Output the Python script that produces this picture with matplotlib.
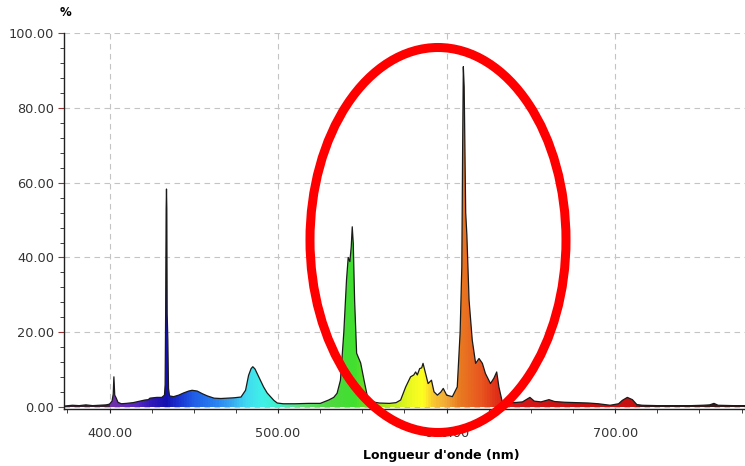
import matplotlib
matplotlib.use('Agg')
import matplotlib.pyplot as plt
import numpy as np
from matplotlib.colors import LinearSegmentedColormap
from matplotlib.patches import Polygon, Ellipse
from matplotlib.ticker import MultipleLocator, FormatStrFormatter

# Longueur d'onde (nm) et intensité (%)
longueurs = [373.5, 378, 382, 386, 390, 394, 398, 400, 401.5, 402.2, 402.6, 403.1, 404, 405,
             407, 410, 414, 418, 421, 423, 424, 428, 431, 432.6, 433.0, 433.3, 433.6, 433.8,
             434.0, 434.2, 434.6, 435.0, 435.6, 438, 441, 444, 447, 449, 452, 455, 458, 462,
             466, 470, 474, 478, 480.7, 482.5, 484, 485, 486.3, 488.5, 491.4, 493.5, 495.5,
             497.5, 499.5, 503, 510, 518, 525, 530, 533, 535, 537, 539, 540.6, 541.6, 542.6,
             543.4, 544.0, 544.6, 545.4, 546.6, 549, 551, 553, 556, 560, 566, 570, 572.7,
             575.7, 578.6, 580.5, 581.6, 582.6, 584, 585.2, 586, 587.5, 589, 591, 592.5,
             594.5, 596.5, 598, 600, 603.4, 606.3, 608, 609, 609.5, 609.9, 610.4, 610.8,
             611.3, 612, 613.3, 615.2, 617.2, 619.2, 621.2, 623, 626, 628, 629.7, 631, 633,
             636, 640, 645, 649.4, 652, 656, 660.7, 664, 670, 677, 684, 690, 697, 702, 704.2,
             707.2, 710.2, 712.8, 716, 725, 735, 745, 752, 756, 758.6, 761, 770, 777]
intensites = [0.3, 0.5, 0.4, 0.6, 0.4, 0.5, 0.6, 0.8, 1.6, 3.5, 8.1, 3.2, 2.4, 1.3,
              0.9, 1.0, 1.2, 1.6, 1.9, 2.0, 2.4, 2.6, 2.6, 3.2, 6, 25, 53, 58.3,
              53, 25, 18, 5, 3.0, 2.8, 3.2, 3.8, 4.3, 4.5, 4.3, 3.6, 3.0, 2.4,
              2.3, 2.4, 2.5, 2.7, 4.5, 8.5, 10.3, 10.8, 10.2, 8.1, 5.4, 3.8, 2.8,
              1.8, 1.1, 0.9, 0.9, 1.0, 1.0, 1.9, 2.6, 3.7, 7.2, 20, 34, 40, 38.9,
              42.9, 48.2, 43.8, 28.6, 14.4, 11.8, 7.2, 2.8, 1.4, 1.1, 1.0, 1.2, 1.9,
              5.4, 8.1, 8.6, 9.4, 8.6, 10.3, 10.5, 11.7, 9.0, 6.3, 7.2, 4.1,
              3.2, 4.0, 5.0, 3.2, 2.8, 5.4, 20, 37.5, 70, 91, 85.6, 70,
              52, 46, 28.6, 17.9, 11.7, 13, 11.7, 9, 6.3, 7.7, 9.4, 5.4, 1.4,
              1.3, 1.2, 1.4, 2.6, 1.6, 1.4, 2.0, 1.5, 1.3, 1.2, 1.1, 0.9, 0.5, 0.9, 1.8,
              2.6, 2.0, 0.7, 0.5, 0.4, 0.4, 0.4, 0.5, 0.6, 1.0, 0.5, 0.4, 0.4]

# couleurs du spectre (longueur d'onde -> couleur)
spectre_nm = [373, 398, 400, 415, 424, 433, 440, 450, 462, 472, 480, 490, 500, 515, 530,
              545, 555, 565, 578, 586, 592, 600, 608, 620, 630, 640, 680, 712, 716, 777]
spectre_col = ['#3a2030', '#3a2030', '#7030a8', '#5a28c0', '#3018b8', '#1410b0', '#1a30d0',
               '#2060e8', '#2a80f0', '#38a8f0', '#40d8f0', '#40f0e8', '#40f0c8', '#60e070',
               '#50d840', '#40e030', '#80e020', '#b0e820', '#e8f820', '#ffff20', '#f8c830',
               '#f0a838', '#e87a20', '#e85820', '#e03018', '#d81818', '#c81010', '#c81010',
               '#3a1a1a', '#3a1a1a']

xmin, xmax = 373, 777

fig = plt.figure(figsize=(7.45, 4.66), dpi=100)
ax = fig.add_axes([64 / 745, 1 - 409 / 466, 1 - 64 / 745, (409 - 33) / 466])

pos = [(w - xmin) / (xmax - xmin) for w in spectre_nm]
cmap = LinearSegmentedColormap.from_list('spectre', list(zip(pos, spectre_col)))

grad = np.linspace(xmin, xmax, 800).reshape(1, -1)
im = ax.imshow(grad, extent=[xmin, xmax, 0, 100], aspect='auto', cmap=cmap,
               vmin=xmin, vmax=xmax, origin='lower', zorder=2)
verts = list(zip(longueurs, intensites)) + [(longueurs[-1], 0), (longueurs[0], 0)]
poly = Polygon(verts, closed=True, facecolor='none', edgecolor='none', transform=ax.transData)
ax.add_patch(poly)
im.set_clip_path(poly)

ax.plot(longueurs, intensites, color='#1a1a1a', lw=0.9, zorder=3)

ax.set_xlim(xmin, xmax)
ax.set_ylim(-0.5, 100)

ax.xaxis.set_major_locator(MultipleLocator(100))
ax.xaxis.set_minor_locator(MultipleLocator(25))
ax.yaxis.set_major_locator(MultipleLocator(20))
ax.yaxis.set_minor_locator(MultipleLocator(4))
ax.xaxis.set_major_formatter(FormatStrFormatter('%.2f'))
ax.yaxis.set_major_formatter(FormatStrFormatter('%.2f'))

ax.grid(which='major', ls=(0, (5, 4)), color='#c4c4c4', lw=0.8, zorder=1)
ax.set_axisbelow(True)

for s in ['top', 'right']:
    ax.spines[s].set_visible(False)
for s in ['left', 'bottom']:
    ax.spines[s].set_color('#202020')
    ax.spines[s].set_linewidth(1.0)

ax.tick_params(axis='x', which='both', length=3, color='#202020', labelsize=9.3,
               labelcolor='#333333', pad=10)
ax.tick_params(axis='y', which='major', length=4, color='#9a3030', labelsize=9.3,
               labelcolor='#333333', pad=3)
ax.tick_params(axis='y', which='minor', length=3, color='#202020')

fig.text(66 / 745, 1 - 12 / 466, '%', fontsize=8.5, fontweight='bold', ha='center', va='center')
fig.text(441 / 745, 1 - 455 / 466, "Longueur d'onde (nm)", fontsize=9, fontweight='bold',
         ha='center', va='center')

# ellipse rouge
ell = Ellipse((438 / 745, 1 - 240 / 466), 256 / 745, 385 / 466, transform=fig.transFigure,
              fill=False, edgecolor='#ff0000', lw=6.5, zorder=10)
fig.patches.append(ell)

fig.savefig('out.png', dpi=100)
